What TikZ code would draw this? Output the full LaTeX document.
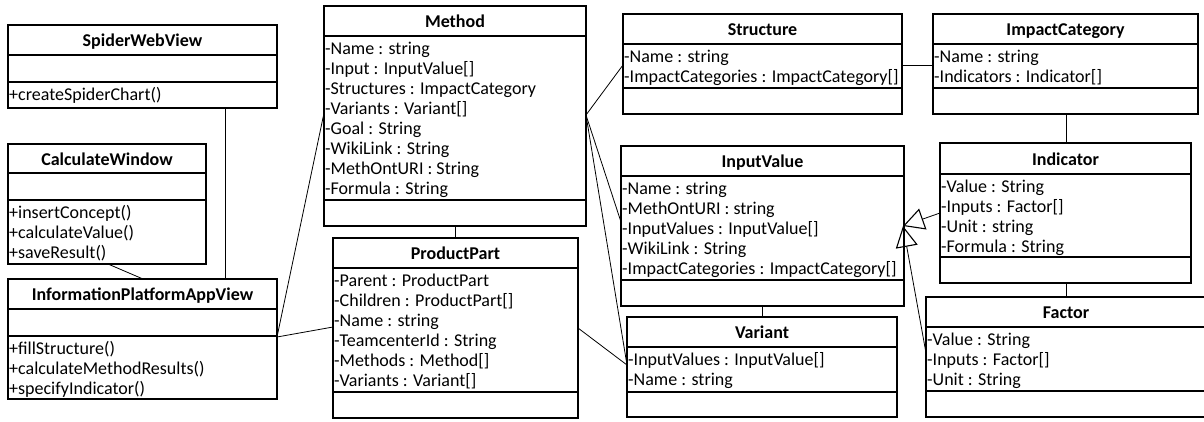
\documentclass[tikz,border=0pt]{standalone}
\usepackage{fontspec}
\setmainfont{Carlito}
\usetikzlibrary{calc,arrows.meta}
\tikzset{
  cls/.style={draw=black, line width=1.4pt, inner sep=0pt, outer sep=0pt, fill=white},
  sepline/.style={draw=black, line width=1.4pt},
  ttl/.style={font=\fontsize{18}{20}\selectfont\bfseries, inner sep=0pt, text height=14.5pt, text depth=1.5pt},
  row/.style={font=\fontsize{18}{20}\selectfont, anchor=west, inner sep=0pt, text height=14.5pt, text depth=1.5pt},
  conn/.style={draw=black, line width=0.8pt},
  gen/.style={draw=black, line width=0.8pt, -{Triangle[open, length=21pt, width=22pt, line width=1.1pt]}},
}
\newcommand{\umlclass}[8]{%
  \node[cls, minimum width={#3-#2}, minimum height={#7-#4}, anchor=north west] (#1) at (#2,#4) {};
  \draw[sepline] (#2,#5) -- (#3,#5);
  \draw[sepline] (#2,#6) -- (#3,#6);
  \node[ttl] (#1-t) at ({(#2+#3)/2},{(#4+#5)/2}) {#8};
}
\newcommand{\umlrows}[4]{%
  \foreach \t [count=\i] in {#4} {
    \node[row] (#1-r\i) at ({#2+1},{#3+12+20*(\i-1)}) {\t};
  }
}
\begin{document}
\begin{tikzpicture}[x=1pt,y=-1pt]
\clip (0,0) rectangle (1204,421);
\fill[white] (0,0) rectangle (1204,421);

% classes
\umlclass{swv}{8}{277}{25}{55}{82}{108}{SpiderWebView}
\umlrows{swv}{8}{82}{{+createSpiderChart()}}

\umlclass{cw}{8}{206}{144}{173}{200}{264}{CalculateWindow}
\umlrows{cw}{8}{200}{{+insertConcept()},{+calculateValue()},{+saveResult()}}

\umlclass{ipav}{8}{277}{279}{309}{336}{399}{InformationPlatformAppView}
\umlrows{ipav}{8}{336}{{+fillStructure()},{+calculateMethodResults()},{+specifyIndicator()}}

\umlclass{method}{324}{586}{6}{36}{200}{226}{Method}
\umlrows{method}{324}{36}{{-Name : string},{-Input : InputValue[]},{-Structures : ImpactCategory},{-Variants : Variant[]},{-Goal : String},{-WikiLink : String},{-MethOntURI : String},{-Formula : String}}

\umlclass{pp}{333}{578}{238}{268}{392}{418}{ProductPart}
\umlrows{pp}{333}{268}{{-Parent : ProductPart},{-Children : ProductPart[]},{-Name : string},{-TeamcenterId : String},{-Methods : Method[]},{-Variants : Variant[]}}

\umlclass{str}{623}{902}{14}{44}{88}{114}{Structure}
\umlrows{str}{623}{44}{{-Name : string},{-ImpactCategories : ImpactCategory[]}}

\umlclass{imp}{933}{1198}{14}{44}{88}{114}{ImpactCategory}
\umlrows{imp}{933}{44}{{-Name : string},{-Indicators : Indicator[]}}

\umlclass{iv}{621}{904}{146}{176}{280}{306}{InputValue}
\umlrows{iv}{621}{176}{{-Name : string},{-MethOntURI : string},{-InputValues : InputValue[]},{-WikiLink : String},{-ImpactCategories : ImpactCategory[]}}

\umlclass{var}{627}{897}{317}{347}{392}{417}{Variant}
\umlrows{var}{627}{347}{{-InputValues : InputValue[]},{-Name : string}}

\umlclass{ind}{940}{1191}{143}{174}{257}{283}{Indicator}
\umlrows{ind}{940}{174}{{-Value : String},{-Inputs : Factor[]},{-Unit : string},{-Formula : String}}

\umlclass{fac}{926}{1206}{297}{327}{391}{417}{Factor}
\umlrows{fac}{926}{327}{{-Value : String},{-Inputs : Factor[]},{-Unit : String}}

% connectors
\draw[conn] ($(swv.south west)+(217,0)$) -- ($(ipav.north west)+(217,0)$);
\draw[conn] ($(cw.south west)+(100,0)$) -- ($(ipav.north west)+(135,0)$);
\draw[conn] ($(ipav.north east)+(0,58)$) -- ($(method.north west)+(0,107)$);
\draw[conn] ($(ipav.north east)+(0,58)$) -- ($(pp.north west)+(0,89)$);
\draw[conn] ($(method.south west)+(131,0)$) -- ($(pp.north west)+(122,0)$);
\draw[conn] ($(method.north east)+(0,109)$) -- ($(str.north west)+(0,51)$);
\draw[conn] ($(method.north east)+(0,109)$) -- ($(iv.north west)+(0,76)$);
\draw[conn] ($(method.north east)+(0,109)$) -- ($(var.north west)+(0,48)$);
\draw[conn] ($(pp.north east)+(0,90)$) -- ($(var.north west)+(0,48)$);
\draw[conn] ($(str.north east)+(0,51)$) -- ($(imp.north west)+(0,51)$);
\draw[conn] ($(imp.south west)+(133,0)$) -- ($(ind.north west)+(126,0)$);
\draw[conn] ($(ind.south west)+(126,0)$) -- ($(fac.north west)+(140,0)$);
\draw[conn] ($(iv.south west)+(141,0)$) -- ($(var.north west)+(135,0)$);
\draw[gen] ($(ind.north west)+(0,70)$) -- ($(iv.north east)+(-1,80)$);
\draw[gen] ($(fac.north west)+(0,56)$) -- ($(iv.north east)+(-1,80)$);
\end{tikzpicture}
\end{document}
